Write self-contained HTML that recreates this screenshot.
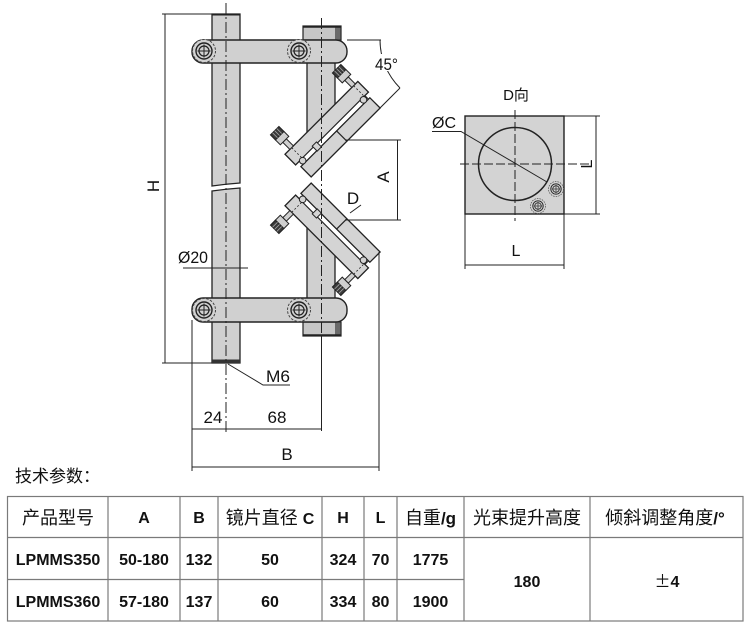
<!DOCTYPE html>
<html><head><meta charset="utf-8"><style>
html,body{margin:0;padding:0;background:#fff;}
svg{display:block;}
text{font-family:"Liberation Sans","Noto Sans CJK SC",sans-serif;fill:#111;}
.cn{font-family:"Liberation Sans","Noto Sans CJK SC",sans-serif;}
</style></head><body>
<svg width="750" height="625" viewBox="0 0 750 625" xmlns="http://www.w3.org/2000/svg">
<defs>
  <g id="screw">
    <circle r="11.5" fill="#d2d2d2" stroke="#444" stroke-width="1" stroke-dasharray="2.5 1.5"/>
    <circle r="8" fill="#d2d2d2" stroke="#222" stroke-width="1.4"/>
    <circle r="5" fill="none" stroke="#222" stroke-width="1.2"/>
    <line x1="-6.5" y1="0" x2="6.5" y2="0" stroke="#222" stroke-width="1"/>
    <line x1="0" y1="-6.5" x2="0" y2="6.5" stroke="#222" stroke-width="1"/>
  </g>
  <g id="knob">
    <rect x="-2.5" y="-10" width="5" height="10" fill="#cfcfcf" stroke="#222" stroke-width="1"/>
    <rect x="-6" y="-17" width="12" height="7" fill="#cfcfcf" stroke="#222" stroke-width="1"/>
    <rect x="-6" y="-24" width="12" height="7" fill="#3a3a3a" stroke="#222" stroke-width="1"/>
    <line x1="-3" y1="-24" x2="-3" y2="-17" stroke="#aaa" stroke-width="0.8"/>
    <line x1="0" y1="-24" x2="0" y2="-17" stroke="#aaa" stroke-width="0.8"/>
    <line x1="3" y1="-24" x2="3" y2="-17" stroke="#aaa" stroke-width="0.8"/>
  </g>
  <g id="mount">
    <g transform="matrix(0.7071,-0.7071,0.7071,0.7071,285,154.3)">
      <rect x="0" y="0" width="103" height="15" fill="#d4d4d4" stroke="#222" stroke-width="1.3"/>
      <rect x="6" y="15" width="92" height="5" fill="#fff" stroke="#222" stroke-width="1"/>
      <rect x="2.5" y="20" width="97.5" height="14.5" fill="#d4d4d4" stroke="#222" stroke-width="1.3"/>
      <line x1="53" y1="20" x2="53" y2="34.5" stroke="#222" stroke-width="1.2"/>
      <circle cx="8" cy="17" r="3.3" fill="#d4d4d4" stroke="#222" stroke-width="1"/>
      <rect x="25" y="13.5" width="6" height="7" fill="#d4d4d4" stroke="#222" stroke-width="1"/>
      <circle cx="94" cy="17" r="3.3" fill="#d4d4d4" stroke="#222" stroke-width="1"/>
      <line x1="9.4" y1="0" x2="9.4" y2="15" stroke="#222" stroke-width="0.8" stroke-dasharray="2 2"/>
      <line x1="97" y1="0" x2="97" y2="15" stroke="#222" stroke-width="0.8" stroke-dasharray="2 2"/>
      <use href="#knob" transform="translate(9.4,0)"/>
      <use href="#knob" transform="translate(97,0)"/>
    </g>
  </g>
</defs>

<!-- LEFT ROD -->
<path d="M212,14 L240,14 L240,183 Q226,184 212,186 Z" fill="#d0d0d0" stroke="#222" stroke-width="1.3"/>
<line x1="212" y1="14.5" x2="240" y2="14.5" stroke="#222" stroke-width="2"/>
<path d="M212,191 Q226,189 240,188 L240,363 L212,363 Z" fill="#d0d0d0" stroke="#222" stroke-width="1.3"/>
<rect x="212" y="359.5" width="28" height="3.5" fill="#333"/>

<!-- RIGHT ROD pieces -->
<polygon points="307,40 335,40 335,110 307,138" fill="#d0d0d0" stroke="#222" stroke-width="1.3"/>
<polygon points="307,320 335,320 335,250 307,222" fill="#d0d0d0" stroke="#222" stroke-width="1.3"/>
<!-- caps -->
<rect x="303" y="26" width="38" height="14" fill="#c6c6c6" stroke="#222" stroke-width="1.2"/>
<rect x="335" y="26.5" width="5.5" height="13" fill="#6a6a6a"/>
<line x1="303" y1="26.8" x2="341" y2="26.8" stroke="#222" stroke-width="2"/>
<rect x="303" y="322" width="38" height="14" fill="#c6c6c6" stroke="#222" stroke-width="1.2"/>
<rect x="335" y="322.5" width="5.5" height="13" fill="#6a6a6a"/>
<line x1="303" y1="335.2" x2="341" y2="335.2" stroke="#222" stroke-width="2"/>

<!-- ARMS -->
<rect x="192" y="40" width="155" height="23" rx="11" ry="11" fill="#d0d0d0" stroke="#222" stroke-width="1.4"/>
<rect x="192" y="298" width="155" height="24" rx="11" ry="11" fill="#d0d0d0" stroke="#222" stroke-width="1.4"/>
<use href="#screw" transform="translate(204,51)"/>
<use href="#screw" transform="translate(299,51)"/>
<use href="#screw" transform="translate(204,310)"/>
<use href="#screw" transform="translate(299,310)"/>

<!-- MOUNTS -->
<use href="#mount"/>
<use href="#mount" transform="translate(0,360) scale(1,-1)"/>

<!-- CENTERLINES -->
<line x1="226" y1="3" x2="226" y2="432" stroke="#222" stroke-width="1" stroke-dasharray="11 3 2 3"/>
<line x1="321.5" y1="18" x2="321.5" y2="336" stroke="#222" stroke-width="1" stroke-dasharray="11 3 2 3"/>
<line x1="321.5" y1="336" x2="321.5" y2="431" stroke="#222" stroke-width="1"/>

<!-- DIMENSIONS -->
<g stroke="#222" stroke-width="1" fill="none">
  <!-- H -->
  <line x1="162" y1="14" x2="212" y2="14"/>
  <line x1="162" y1="363" x2="212" y2="363"/>
  <line x1="165" y1="14" x2="165" y2="363"/>
  <!-- 45 deg -->
  <line x1="347" y1="40" x2="381" y2="40"/>
  <path d="M380,40 A68,68 0 0,0 400,88"/>
  <line x1="380" y1="108" x2="400" y2="88"/>
  <!-- A -->
  <line x1="345" y1="140" x2="401" y2="140"/>
  <line x1="345" y1="220" x2="401" y2="220"/>
  <line x1="397.5" y1="140" x2="397.5" y2="220"/>
  <!-- D leader -->
  <line x1="350" y1="213" x2="361" y2="205"/>
  <!-- Ø20 -->
  <line x1="183" y1="268" x2="248" y2="268"/>
  <!-- M6 -->
  <polyline points="228,364 263,385 290,385"/>
  <!-- bottom ext lines -->
  <line x1="192" y1="320" x2="192" y2="471"/>
  <line x1="379" y1="252" x2="379" y2="471"/>
  <line x1="192" y1="429" x2="322" y2="429"/>
  <line x1="192" y1="467" x2="379" y2="467"/>
</g>
<rect x="374" y="54" width="22" height="17" fill="#fff"/>
<text x="375" y="70" font-size="17" textLength="23" lengthAdjust="spacingAndGlyphs">45°</text>
<text transform="translate(389,177) rotate(-90)" font-size="17" text-anchor="middle">A</text>
<text transform="translate(159,186) rotate(-90)" font-size="17" text-anchor="middle">H</text>
<text x="353" y="204" font-size="17" text-anchor="middle">D</text>
<text x="178" y="263" font-size="17" textLength="30" lengthAdjust="spacingAndGlyphs">Ø20</text>
<text x="266" y="382" font-size="17" textLength="24" lengthAdjust="spacingAndGlyphs">M6</text>
<text x="213" y="423" font-size="17" text-anchor="middle">24</text>
<text x="277" y="423" font-size="17" text-anchor="middle">68</text>
<text x="287" y="460" font-size="17" text-anchor="middle">B</text>

<!-- D VIEW -->
<text x="516" y="100" font-size="15" text-anchor="middle">D向</text>
<rect x="465" y="116" width="99" height="98" fill="#d3d3d3" stroke="#222" stroke-width="1.4"/>
<circle cx="515" cy="164" r="36.5" fill="none" stroke="#222" stroke-width="1.5"/>
<line x1="515" y1="110" x2="515" y2="221" stroke="#222" stroke-width="1" stroke-dasharray="9 3"/>
<line x1="460" y1="164" x2="589" y2="164" stroke="#222" stroke-width="1" stroke-dasharray="9 3"/>
<use href="#screw" transform="translate(556,189) scale(0.65)"/>
<use href="#screw" transform="translate(538,206) scale(0.65)"/>
<text x="432" y="128" font-size="16" textLength="24" lengthAdjust="spacingAndGlyphs">ØC</text>
<g stroke="#222" stroke-width="1" fill="none">
  <polyline points="432,131.5 461,131.5 547,182"/>
  <line x1="564" y1="116" x2="600" y2="116"/>
  <line x1="564" y1="214" x2="600" y2="214"/>
  <line x1="596" y1="116" x2="596" y2="214"/>
  <line x1="465" y1="214" x2="465" y2="269"/>
  <line x1="564" y1="214" x2="564" y2="269"/>
  <line x1="465" y1="265" x2="564" y2="265"/>
</g>
<text transform="translate(592,164) rotate(-90)" font-size="16" text-anchor="middle">L</text>
<text x="516" y="256" font-size="16" text-anchor="middle">L</text>

<!-- TECH PARAMS -->
<text x="15" y="482" font-size="17" class="cn">技术参数：</text>

<!-- TABLE -->
<g stroke="#7a7a7a" stroke-width="1.2" fill="none">
  <rect x="7.5" y="496.5" width="735.5" height="124.5"/>
  <line x1="7.5" y1="537.5" x2="743" y2="537.5"/>
  <line x1="7.5" y1="579.5" x2="464" y2="579.5"/>
  <line x1="108" y1="496.5" x2="108" y2="621"/>
  <line x1="180" y1="496.5" x2="180" y2="621"/>
  <line x1="218" y1="496.5" x2="218" y2="621"/>
  <line x1="322" y1="496.5" x2="322" y2="621"/>
  <line x1="364" y1="496.5" x2="364" y2="621"/>
  <line x1="397" y1="496.5" x2="397" y2="621"/>
  <line x1="464" y1="496.5" x2="464" y2="621"/>
  <line x1="590" y1="496.5" x2="590" y2="621"/>
</g>
<g font-size="18" text-anchor="middle">
  <text x="58" y="524">产品型号</text>
  <text x="144" y="523" font-weight="bold" font-size="16">A</text>
  <text x="199" y="523" font-weight="bold" font-size="16">B</text>
  <text x="270" y="524">镜片直径 <tspan font-weight="bold" font-size="16">C</tspan></text>
  <text x="343" y="523" font-weight="bold" font-size="16">H</text>
  <text x="380.5" y="523" font-weight="bold" font-size="16">L</text>
  <text x="430.5" y="524">自重<tspan font-weight="bold" font-size="17">/g</tspan></text>
  <text x="527" y="524">光束提升高度</text>
  <text x="665" y="524">倾斜调整角度<tspan font-weight="bold" font-size="17">/°</tspan></text>
</g>
<g font-size="16" font-weight="bold" text-anchor="middle">
  <text x="58" y="565">LPMMS350</text>
  <text x="144" y="565">50-180</text>
  <text x="199" y="565">132</text>
  <text x="270" y="565">50</text>
  <text x="343" y="565">324</text>
  <text x="380.5" y="565">70</text>
  <text x="430.5" y="565">1775</text>
  <text x="58" y="607">LPMMS360</text>
  <text x="144" y="607">57-180</text>
  <text x="199" y="607">137</text>
  <text x="270" y="607">60</text>
  <text x="343" y="607">334</text>
  <text x="380.5" y="607">80</text>
  <text x="430.5" y="607">1900</text>
  <text x="527" y="587">180</text>
  <text x="667" y="587"><tspan font-weight="normal" font-family="Noto Sans CJK SC, sans-serif">±</tspan>4</text>
</g>
</svg>
</body></html>
